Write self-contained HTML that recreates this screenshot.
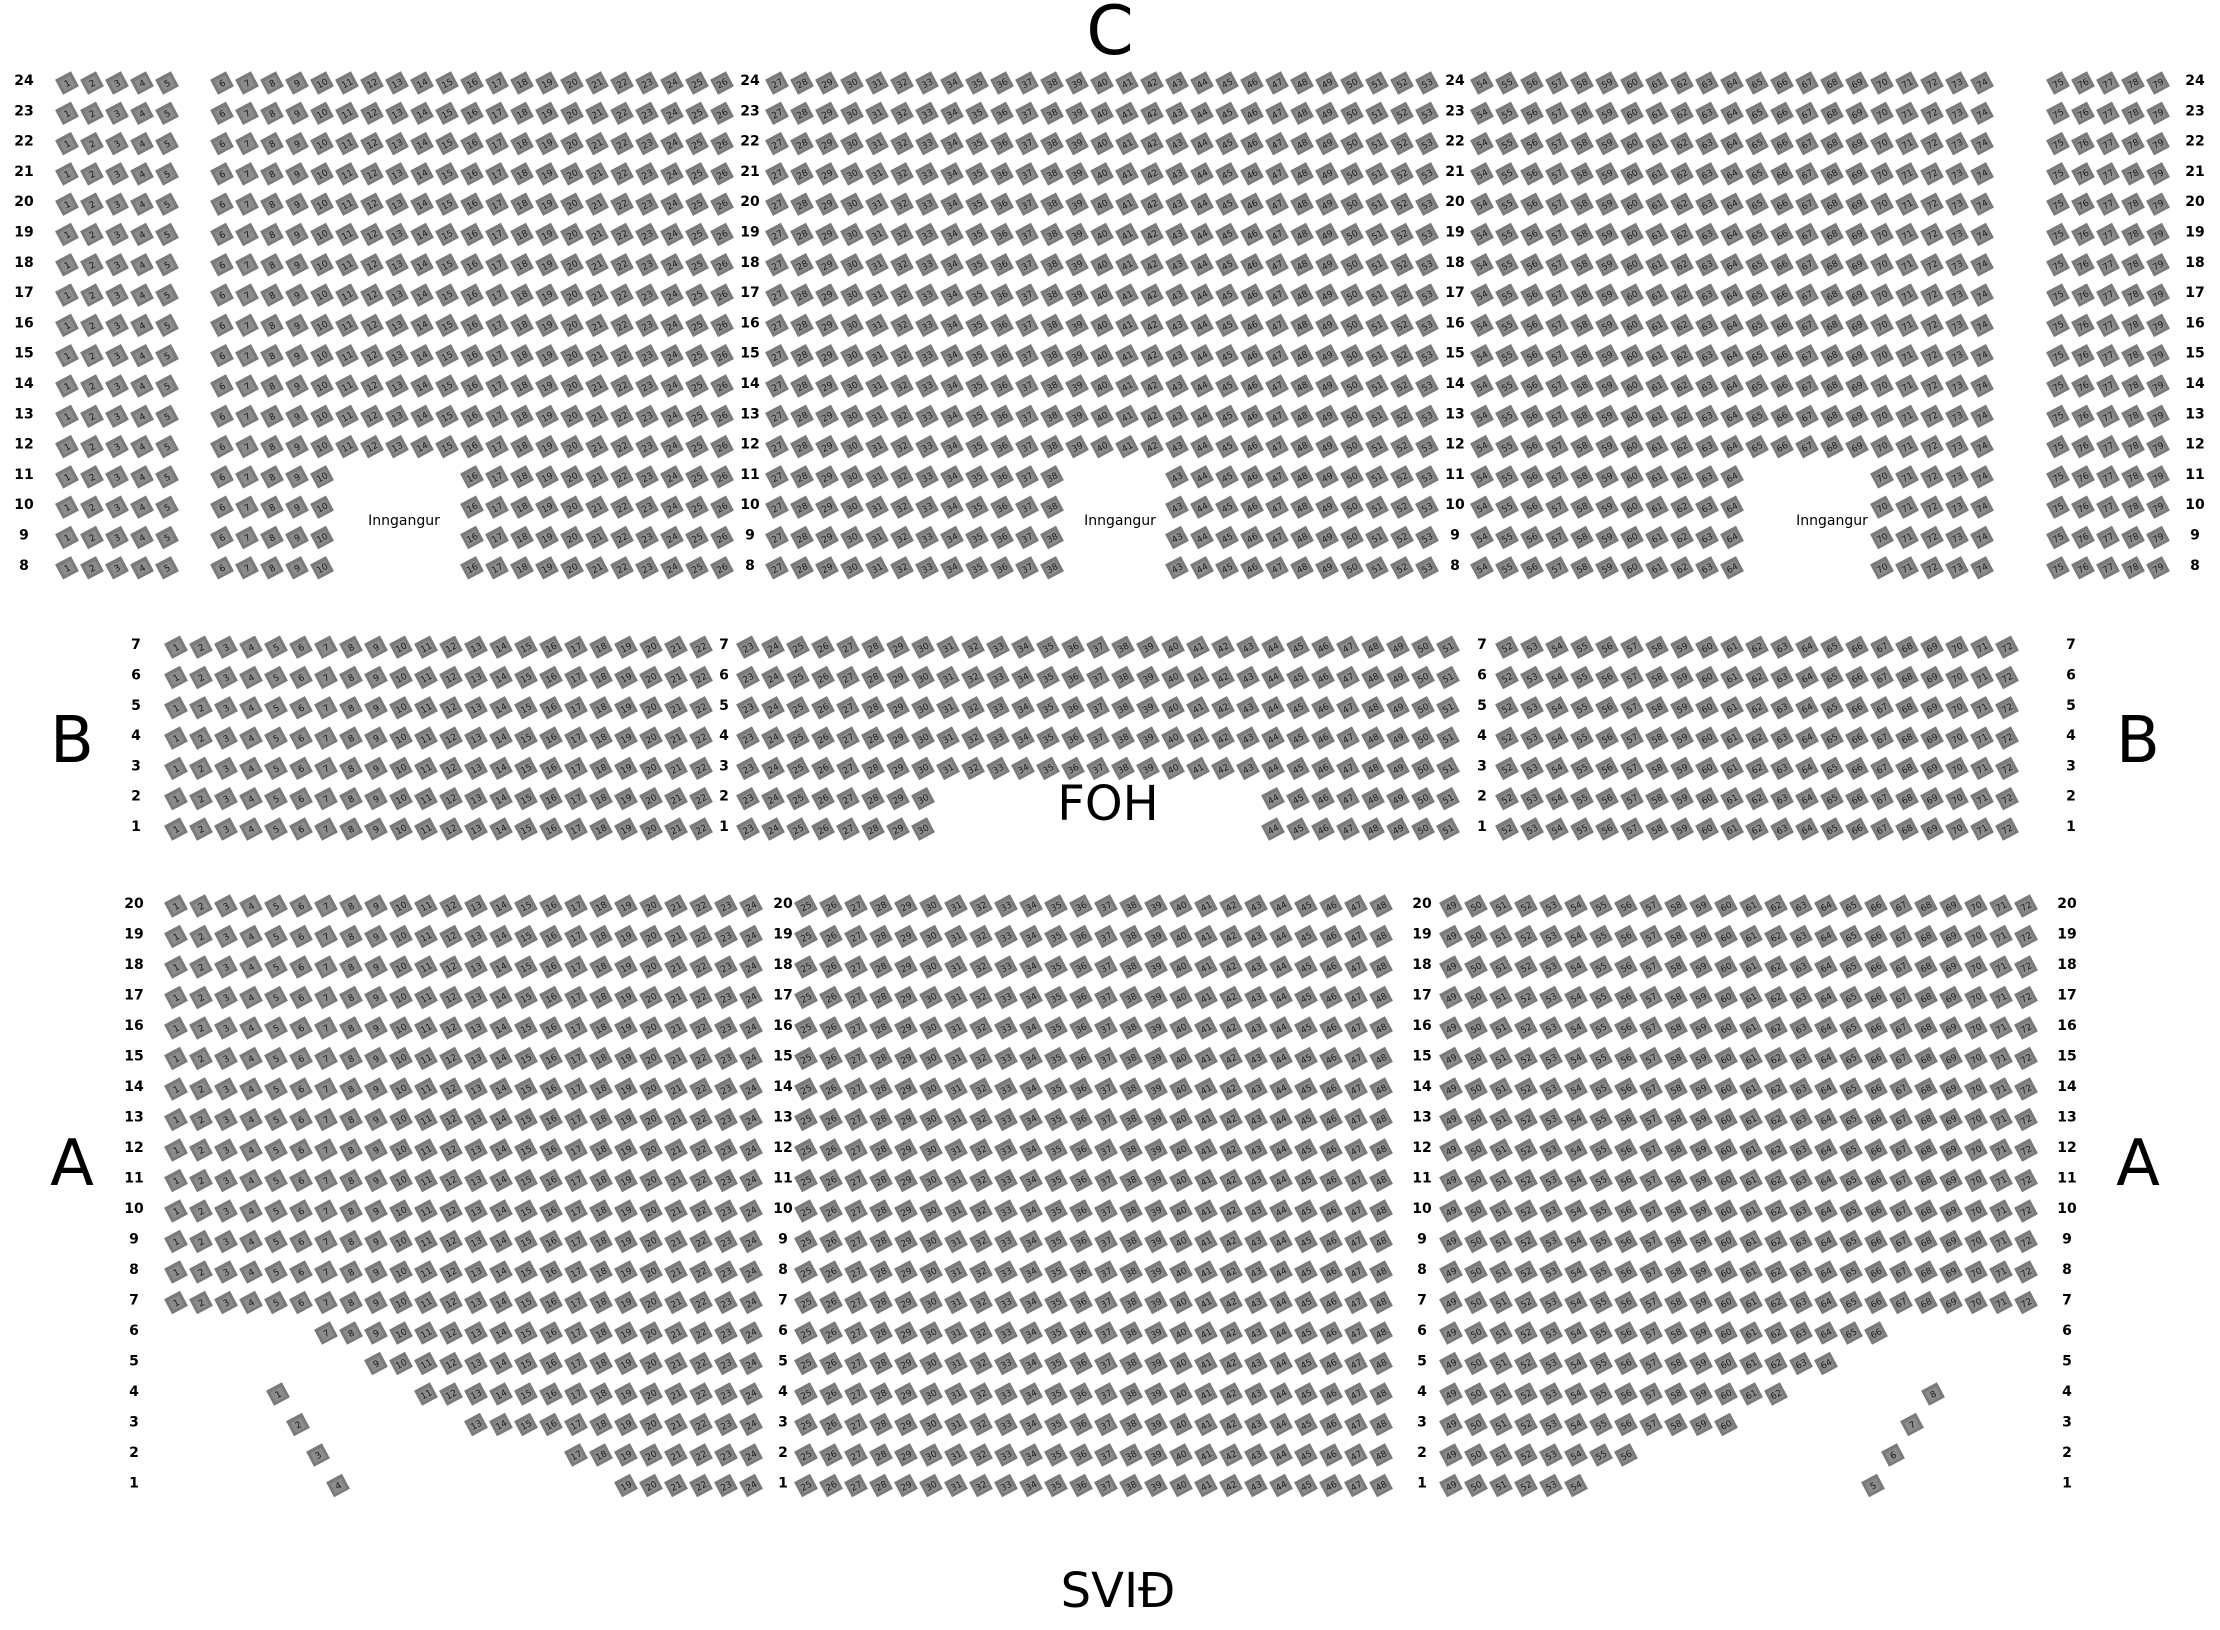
<!DOCTYPE html>
<html><head><meta charset="utf-8"><style>
html,body{margin:0;padding:0;background:#fff;}
svg{display:block;}
.big{font-family:"DejaVu Sans","Liberation Sans",sans-serif;fill:#000;text-anchor:middle;}
.rl{font-family:"DejaVu Sans","Liberation Sans",sans-serif;font-weight:bold;font-size:14px;fill:#000;text-anchor:middle;}
.sn{font-family:"DejaVu Sans","Liberation Sans",sans-serif;font-size:9px;fill:#1a1a1a;text-anchor:middle;}
.inn{font-family:"DejaVu Sans","Liberation Sans",sans-serif;font-size:14px;fill:#000;text-anchor:middle;}
</style></head><body>
<svg id="s" width="2220" height="1630" viewBox="0 0 2220 1630" xmlns="http://www.w3.org/2000/svg">
<text class="big" x="1110" y="54" font-size="68">C</text>
<text class="big" x="72" y="762" font-size="64">B</text>
<text class="big" x="2138" y="762" font-size="64">B</text>
<text class="big" x="72" y="1185" font-size="64">A</text>
<text class="big" x="2138" y="1185" font-size="64">A</text>
<text class="big" x="1108" y="820" font-size="48">FOH</text>
<text class="big" x="1118" y="1607" font-size="48">SVIÐ</text>
<text class="inn" x="404" y="525">Inngangur</text>
<text class="inn" x="1120" y="525">Inngangur</text>
<text class="inn" x="1832" y="525">Inngangur</text>
<g id="g"></g>
</svg>
<script>
var g=document.getElementById('g'),h='';
function seat(x,y,n){
 h+='<g transform="translate('+x+','+(y+3)+') rotate(-28)"><rect x="-9" y="-8.5" width="18" height="17" fill="#7a7a7a"/><rect x="-6" y="-5" width="12" height="11" fill="#8c8c8c"/><text class="sn" x="0" y="3.5">'+n+'</text></g>';
}
function lab(x,y,t){h+='<text class="rl" x="'+x+'" y="'+(y+5)+'">'+t+'</text>';}
function range(a,b,x0,n0,y){for(var n=a;n<=b;n++)seat(x0+(n-n0)*25,y,n);}
for(var r=24;r>=8;r--){
 var y=80+(24-r)*30.3;
 lab(24,y,r);lab(750,y,r);lab(1455,y,r);lab(2195,y,r);
 range(1,5,67,1,y);
 if(r>=12){range(6,26,222,6,y);range(27,53,777,27,y);range(54,74,1482,54,y);}
 else{range(6,10,222,6,y);range(16,26,222,6,y);range(27,38,777,27,y);range(43,53,777,27,y);range(54,64,1482,54,y);range(70,74,1482,54,y);}
 range(75,79,2058,75,y);
}
for(var r=7;r>=1;r--){
 var y=826-(r-1)*30.3;
 lab(136,y,r);lab(724,y,r);lab(1482,y,r);lab(2071,y,r);
 range(1,22,176,1,y);
 if(r>=3)range(23,51,748,23,y);else{range(23,30,748,23,y);range(44,51,748,23,y);}
 range(52,72,1507,52,y);
}
var lo={6:7,5:9,4:11,3:13,2:17,1:19},hi={6:66,5:64,4:62,3:60,2:56,1:54};
function ay(r){return 903+(20-r)*30.5;}
for(var r=20;r>=1;r--){
 var y=ay(r);
 lab(134,y,r);lab(783,y,r);lab(1422,y,r);lab(2067,y,r);
 var a=r>=7?1:lo[r],b=r>=7?72:hi[r];
 range(a,24,176,1,y);
 range(25,48,806,25,y);
 range(49,b,1451,49,y);
}
[[278,4,1],[298,3,2],[318,2,3],[338,1,4]].forEach(function(e){seat(e[0],ay(e[1]),e[2]);});
[[1933,4,8],[1912,3,7],[1893,2,6],[1873,1,5]].forEach(function(e){seat(e[0],ay(e[1]),e[2]);});
g.innerHTML=h;
</script>
</body></html>
